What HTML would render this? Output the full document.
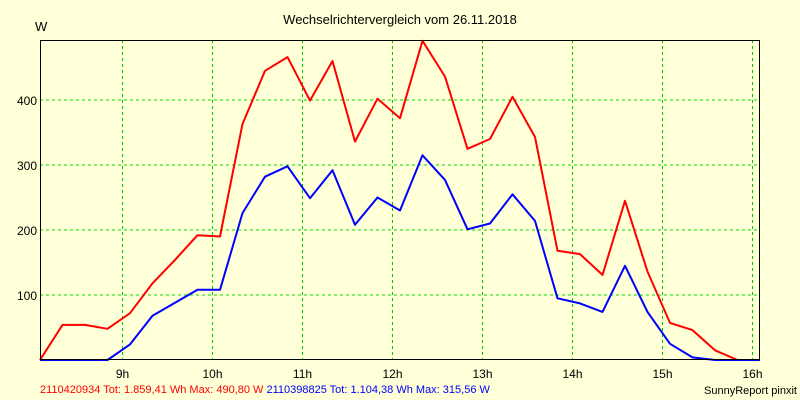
<!DOCTYPE html>
<html><head><meta charset="utf-8"><style>
html,body{margin:0;padding:0;background:#ffffd8;}
svg{display:block;font-family:"Liberation Sans",Arial,sans-serif;}
</style></head><body>
<svg id="chart" width="800" height="400" viewBox="0 0 800 400">
<rect x="0" y="0" width="800" height="400" fill="#ffffd8"/>
<text x="400" y="24" text-anchor="middle" font-size="13" fill="#000">Wechselrichtervergleich vom 26.11.2018</text>
<text x="35" y="31" font-size="13" fill="#000">W</text>
<g id="grid"></g>
<g id="series"></g>
<rect x="40.5" y="40.5" width="719" height="319" fill="none" stroke="#000" stroke-width="1"/>
<g id="ticks"></g>
<text x="40" y="393" font-size="11" fill="#ff0000">2110420934 Tot: 1.859,41 Wh Max: 490,80 W <tspan fill="#0000ff">2110398825 Tot: 1.104,38 Wh Max: 315,56 W</tspan></text>
<text x="797" y="394" text-anchor="end" font-size="11" fill="#000">SunnyReport pinxit</text>
</svg>
<script>
const yTicks = [100, 200, 300, 400];
const xHours = [9, 10, 11, 12, 13, 14, 15, 16];
const xLabels = ["9h", "10h", "11h", "12h", "13h", "14h", "15h", "16h"];
const startTime = 8.0833;
const stepHours = 0.25;
const redValues = [0,54,54,48,72,118,154,192,190,363,445,466,399,460,336,402,372,491,436,325,340,405,343,168,163,131,245,136,57,46,15,0,0];
const blueValues = [0,0,0,0,24,68,88,108,108,226,282,298,249,292,208,250,230,315,277,201,210,255,214,95,87,74,145,74,25,4,0,0,0];

const NS = "http://www.w3.org/2000/svg";
const X0 = 40, X1 = 760, Y0 = 360, Y1 = 40;
function xScale(h){ return X0 + (h - startTime) * 90; }
function yScale(v){ return Y0 - v * 0.65; }

const grid = document.getElementById('grid');
const ticks = document.getElementById('ticks');
yTicks.forEach(v => {
  const l = document.createElementNS(NS, 'line');
  l.setAttribute('x1', X0); l.setAttribute('x2', X1);
  l.setAttribute('y1', yScale(v)); l.setAttribute('y2', yScale(v));
  l.setAttribute('stroke', '#00dd00'); l.setAttribute('stroke-dasharray', '3,3');
  
  
  grid.appendChild(l);
  const t = document.createElementNS(NS, 'text');
  t.setAttribute('x', 37); t.setAttribute('y', yScale(v) + 5);
  t.setAttribute('text-anchor', 'end'); t.setAttribute('font-size', '12');
  t.textContent = v;
  
  
  ticks.appendChild(t);
});
xHours.forEach((h, i) => {
  const x = xScale(h);
  const l = document.createElementNS(NS, 'line');
  l.setAttribute('x1', x); l.setAttribute('x2', x);
  l.setAttribute('y1', Y1); l.setAttribute('y2', Y0);
  l.setAttribute('stroke', '#00cc00'); l.setAttribute('stroke-dasharray', '3,3');
  
  
  grid.appendChild(l);
  const t = document.createElementNS(NS, 'text');
  t.setAttribute('x', x); t.setAttribute('y', 378);
  t.setAttribute('text-anchor', 'middle'); t.setAttribute('font-size', '12');
  t.textContent = xLabels[i];
  
  
  ticks.appendChild(t);
});
function drawLine(vals, color, name){
  const pts = vals.map((v, i) => xScale(startTime + i * stepHours).toFixed(1) + ',' + yScale(v).toFixed(1)).join(' ');
  const p = document.createElementNS(NS, 'polyline');
  p.setAttribute('points', pts);
  p.setAttribute('fill', 'none'); p.setAttribute('stroke', color);
  p.setAttribute('stroke-width', '2'); p.setAttribute('stroke-linejoin', 'round');
  
  
  document.getElementById('series').appendChild(p);
}
drawLine(redValues, '#ff0000', 'line-2110420934');
drawLine(blueValues, '#0000ff', 'line-2110398825');
</script>
</body></html>
